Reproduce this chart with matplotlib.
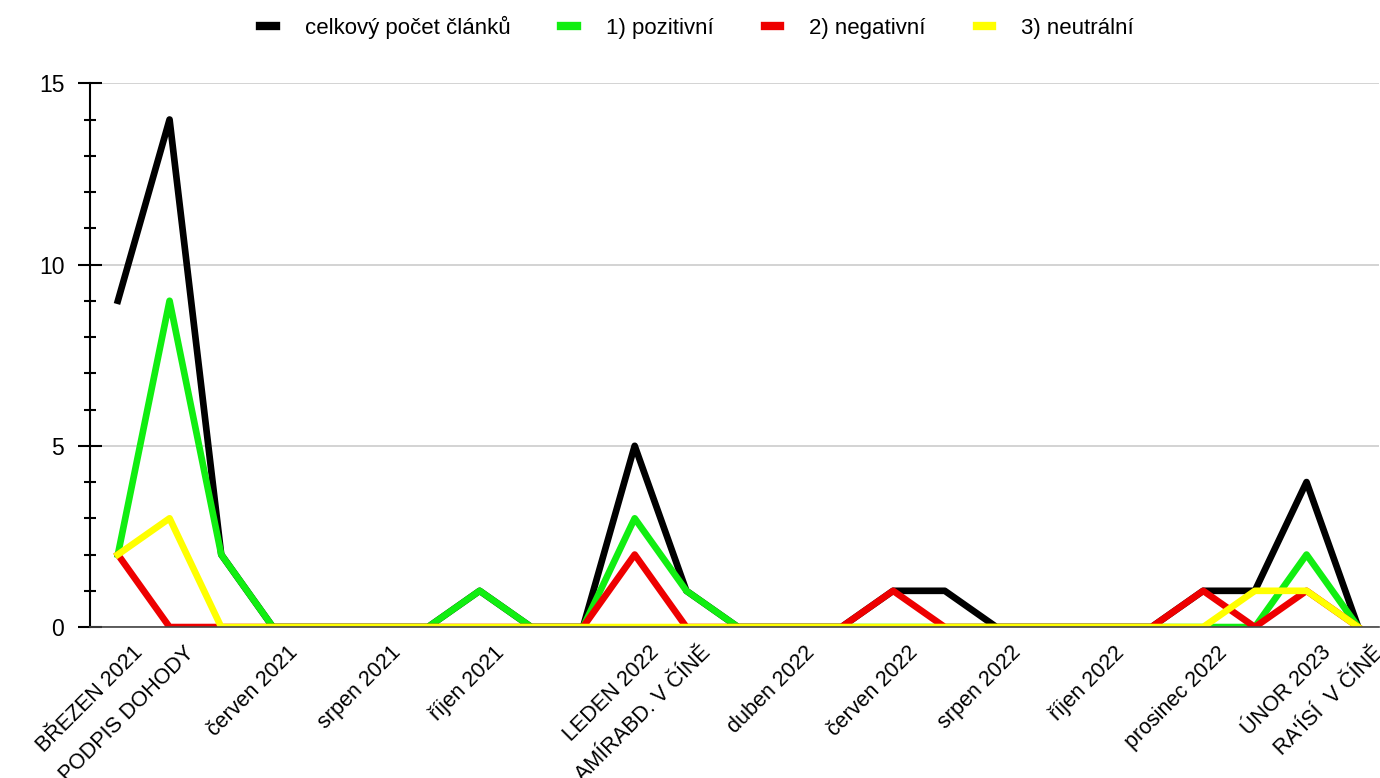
import numpy as np
import matplotlib.pyplot as plt
import matplotlib.transforms as mtransforms
from matplotlib.ticker import MultipleLocator

plt.rcParams['font.family'] = ['Liberation Sans', 'DejaVu Sans']

# popisky mesicu (jen nektere se zobrazuji)
months = ["BŘEZEN 2021", "PODPIS DOHODY", "květen 2021", "červen 2021", "červenec 2021",
          "srpen 2021", "září 2021", "říjen 2021", "listopad 2021", "prosinec 2021",
          "LEDEN 2022", "AMÍRABD. V ČÍNĚ", "březen 2022", "duben 2022", "květen 2022",
          "červen 2022", "červenec 2022", "srpen 2022", "září 2022", "říjen 2022",
          "listopad 2022", "prosinec 2022", "leden 2023", "ÚNOR 2023", "RA'ÍSÍ  V ČÍNĚ"]
shown = [0, 1, 3, 5, 7, 10, 11, 13, 15, 17, 19, 21, 23, 24]

celkem = [9, 14, 2, 0, 0, 0, 0, 1, 0, 0, 5, 1, 0, 0, 0, 1, 1, 0, 0, 0, 0, 1, 1, 4, 0]
pozitivni = [2, 9, 2, 0, 0, 0, 0, 1, 0, 0, 3, 1, 0, 0, 0, 0, 0, 0, 0, 0, 0, 0, 0, 2, 0]
negativni = [2, 0, 0, 0, 0, 0, 0, 0, 0, 0, 2, 0, 0, 0, 0, 1, 0, 0, 0, 0, 0, 1, 0, 1, 0]
neutralni = [2, 3, 0, 0, 0, 0, 0, 0, 0, 0, 0, 0, 0, 0, 0, 0, 0, 0, 0, 0, 0, 0, 1, 1, 0]

x = np.arange(len(months))

fig = plt.figure(figsize=(13.8, 7.78), dpi=100)
ax = fig.add_axes([0.0652, 0.194, 0.934, 0.699])

lw = 4.8
ax.plot(x, celkem, color="black", lw=lw, label="celkový počet článků")
ax.plot(x, pozitivni, color="#11ee11", lw=lw, label="1) pozitivní")
ax.plot(x, negativni, color="#ee0000", lw=lw, label="2) negativní")
ax.plot(x, neutralni, color="#ffff00", lw=lw, label="3) neutrální")

ax.set_xlim(-0.54, 24.4)
ax.set_ylim(0, 15)

# osy
for s in ["top", "right"]:
    ax.spines[s].set_visible(False)
ax.spines["left"].set_linewidth(1.5)
ax.spines["bottom"].set_color("#444444")
ax.spines["bottom"].set_linewidth(1.2)
ax.yaxis.set_major_locator(MultipleLocator(5))
ax.yaxis.set_minor_locator(MultipleLocator(1))
ax.tick_params(axis="y", which="major", direction="inout", length=17, width=1.5, labelsize=16.5, pad=10)
ax.tick_params(axis="y", which="minor", direction="inout", length=8.5, width=1.5)
ax.grid(axis="y", which="major", color="#cccccc", lw=1.2)
ax.set_axisbelow(True)

ax.set_xticks(x[shown])
ax.set_xticklabels([months[i] for i in shown], rotation=45, ha="right",
                   rotation_mode="anchor", fontsize=15.5)
ax.tick_params(axis="x", length=0, pad=11)
posun = mtransforms.ScaledTranslation(0.14, 0, fig.dpi_scale_trans)
for lab in ax.get_xticklabels():
    lab.set_transform(lab.get_transform() + posun)

leg = fig.legend(loc="upper center", bbox_to_anchor=(0.505, 1.005), ncol=4, frameon=False,
                 fontsize=16, handlelength=0.7, columnspacing=2.3, handletextpad=1.3)
for h in leg.legend_handles:
    h.set_linewidth(6)

fig.savefig("out.png", dpi=100)
